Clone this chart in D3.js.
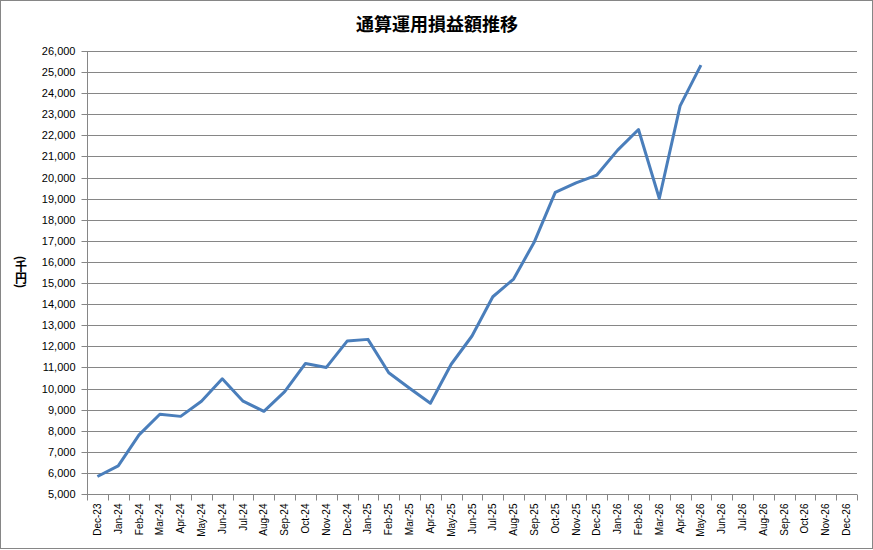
<!DOCTYPE html>
<html>
<head>
<meta charset="utf-8">
<script src="https://cdn.jsdelivr.net/npm/d3@7/dist/d3.min.js"></script>
<style>
html,body{margin:0;padding:0;background:#fff;}
svg{display:block;}
</style>
</head>
<body>
<svg id="chart" width="873" height="550"></svg>
<script>
const categories = ["Dec-23","Jan-24","Feb-24","Mar-24","Apr-24","May-24","Jun-24","Jul-24","Aug-24","Sep-24","Oct-24","Nov-24","Dec-24","Jan-25","Feb-25","Mar-25","Apr-25","May-25","Jun-25","Jul-25","Aug-25","Sep-25","Oct-25","Nov-25","Dec-25","Jan-26","Feb-26","Mar-26","Apr-26","May-26","Jun-26","Jul-26","Aug-26","Sep-26","Oct-26","Nov-26","Dec-26"];
const values = [5830,6330,7800,8780,8680,9400,10460,9400,8920,9850,11190,11000,12250,12330,10750,10010,9300,11150,12490,14350,15190,16960,19300,19750,20120,21300,22280,19010,23400,25330];
const yTicks = [5000,6000,7000,8000,9000,10000,11000,12000,13000,14000,15000,16000,17000,18000,19000,20000,21000,22000,23000,24000,25000,26000];
const title = "通算運用損益額推移";
const yLabel = "(千円)";

(function(){
const svg = d3.select("#chart");
const pL = 87, pR = 857, pT = 51, pB = 494;
const grey = "#868686";

svg.append("rect").attr("x",0.5).attr("y",0.5).attr("width",872).attr("height",548)
  .attr("fill","#fff").attr("stroke",grey).attr("stroke-width",1);

const x = d3.scaleBand().domain(categories).range([pL,pR]).padding(0);
const y = d3.scaleLinear().domain([5000,26000]).range([pB,pT]);

// grid
svg.append("g").selectAll("line").data(yTicks.slice(1)).join("line")
  .attr("x1",pL).attr("x2",pR)
  .attr("y1",d=>Math.round(y(d))+0.5).attr("y2",d=>Math.round(y(d))+0.5)
  .attr("stroke",grey).attr("stroke-width",1);

// y axis
const yAxis = svg.append("g").attr("transform",`translate(${pL+0.5},0.5)`)
  .call(d3.axisLeft(y).tickValues(yTicks).tickSize(6).tickPadding(6).tickFormat(d3.format(",")));
yAxis.select(".domain").attr("stroke",grey).attr("d",`M0,${pB}V${pT}`);
yAxis.selectAll(".tick line").attr("stroke",grey);
yAxis.selectAll(".tick").attr("transform",d=>`translate(0,${Math.round(y(d))})`);
yAxis.selectAll("text").attr("font-family","'Liberation Sans', Arial, sans-serif").attr("font-size",11).attr("fill","#000");

// x axis
const xAxis = svg.append("g").attr("transform",`translate(0,${pB+0.5})`);
xAxis.append("line").attr("x1",pL).attr("x2",pR).attr("y1",0).attr("y2",0).attr("stroke",grey);
const bounds = categories.map(c=>x(c)).concat([pR]);
xAxis.selectAll("line.tk").data(bounds).join("line").attr("class","tk")
  .attr("x1",d=>Math.round(d)+0.5).attr("x2",d=>Math.round(d)+0.5)
  .attr("y1",0).attr("y2",6).attr("stroke",grey);
xAxis.selectAll("text").data(categories).join("text")
  .attr("transform",d=>`translate(${x(d)+x.bandwidth()/2+3.5},9) rotate(-90)`)
  .attr("text-anchor","end")
  .attr("font-family","'Liberation Sans', Arial, sans-serif").attr("font-size",10).attr("fill","#000")
  .text(d=>d);

// line
const line = d3.line().x((d,i)=>x(categories[i])+x.bandwidth()/2).y(d=>y(d));
svg.append("path").datum(values).attr("d",line).attr("fill","none")
  .attr("stroke","#4a7ebb").attr("stroke-width",3).attr("stroke-linejoin","round").attr("stroke-linecap","butt");

// title
svg.append("text").attr("x",437).attr("y",31).attr("text-anchor","middle")
  .attr("font-family","'Noto Sans CJK JP', sans-serif").attr("font-size",18).attr("font-weight","bold")
  .attr("fill","#000").text(title);

// y label (vertical, stacked characters)
const chars = Array.from(yLabel);
const cy = [258, 265, 277.5, 286];
const gl = svg.append("g").attr("font-family","'Noto Sans CJK JP', sans-serif")
  .attr("font-size",12).attr("font-weight","bold").attr("fill","#000");
chars.forEach((c,i)=>{
  const rot = (c==="(" || c===")") ? 90 : 0;
  gl.append("text")
    .attr("transform",`translate(21,${cy[i]}) rotate(${rot})`)
    .attr("text-anchor","middle").attr("dominant-baseline","central")
    .text(c);
});
})();
</script>
</body>
</html>
